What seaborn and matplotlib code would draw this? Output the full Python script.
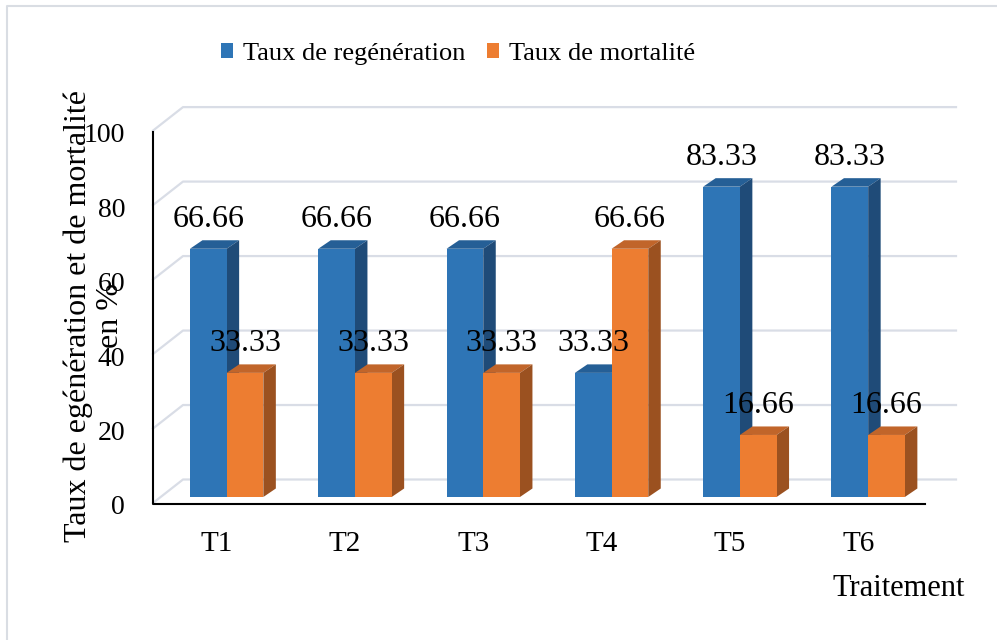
import pandas as pd
import matplotlib.pyplot as plt
import seaborn as sns
from matplotlib.patches import Polygon, Patch
from matplotlib.lines import Line2D
from matplotlib.transforms import IdentityTransform, ScaledTranslation

plt.rcParams['font.family'] = ['Liberation Serif', 'DejaVu Serif']

traitements = ['T1', 'T2', 'T3', 'T4', 'T5', 'T6']
series = ['Taux de regénération', 'Taux de mortalité']
regeneration = [66.66, 66.66, 66.66, 33.33, 83.33, 83.33]
mortalite = [33.33, 33.33, 33.33, 66.66, 16.66, 16.66]
yticks = [0, 20, 40, 60, 80, 100]

front = ['#2E75B6', '#ED7D31']
top_col = ['#255F96', '#C1652A']
side_col = ['#1F4B78', '#9B5120']

df = pd.DataFrame({
    'Traitement': traitements * 2,
    'Serie': [series[0]] * 6 + [series[1]] * 6,
    'Valeur': regeneration + mortalite,
})

W, H = 997, 640
fig = plt.figure(figsize=(W / 100, H / 100), dpi=100)
ax = fig.add_axes([153 / W, (H - 497) / H, (925 - 153) / W, (497 - 124.6) / H])

sns.barplot(data=df, x='Traitement', y='Valeur', hue='Serie', hue_order=series,
            palette=front, width=0.572, saturation=1, linewidth=0,
            legend=False, ax=ax)

ax.set_xlim(-0.574, 5.443)
ax.set_ylim(0, 100)
ax.set_xlabel('')
ax.set_ylabel('')
for s in ax.spines.values():
    s.set_visible(False)
ax.tick_params(length=0)
ax.set_yticks(yticks)
ax.set_yticklabels([str(v) for v in yticks], fontsize=20)
ax.tick_params(axis='y', pad=20)
ax.set_xticks(range(len(traitements)))
ax.set_xticklabels(traitements, fontsize=21)
ax.tick_params(axis='x', pad=24.5)
for lab in ax.get_yticklabels():
    lab.set_transform(lab.get_transform() + ScaledTranslation(0, -0.08, fig.dpi_scale_trans))
for lab in ax.get_xticklabels():
    lab.set_transform(lab.get_transform() + ScaledTranslation(-0.10, 0, fig.dpi_scale_trans))

to_px = ax.transData.transform
DX, DY = 12.5, 8.5

# back wall grid (pseudo 3D)
for v in yticks:
    py = to_px((0, v))[1]
    ax.add_artist(Line2D([153, 183, 956], [py - 6, py + 17.5, py + 17.5],
                         transform=IdentityTransform(), color='#D9DDE6', lw=1.6,
                         clip_on=False, zorder=0.5))

# bars: top and side faces + value labels
for ci, cont in enumerate(ax.containers):
    for bar in cont:
        x0 = bar.get_x()
        w = bar.get_width()
        h = bar.get_height()
        bar.set_zorder(3 + ci * 0.2)
        (px0, py0), (px1, py1) = to_px([(x0, 0), (x0 + w, h)])
        topf = Polygon([(px0, py1), (px1, py1), (px1 + DX, py1 + DY), (px0 + DX, py1 + DY)],
                       closed=True, transform=IdentityTransform(), facecolor=top_col[ci],
                       edgecolor='none', clip_on=False, zorder=2.9 + ci * 0.2)
        sidef = Polygon([(px1, py0), (px1 + DX, py0 + DY), (px1 + DX, py1 + DY), (px1, py1)],
                        closed=True, transform=IdentityTransform(), facecolor=side_col[ci],
                        edgecolor='none', clip_on=False, zorder=2.9 + ci * 0.2)
        ax.add_artist(topf)
        ax.add_artist(sidef)
        ax.annotate(f'{h:.2f}', (x0 + w / 2, h), xytext=(0, 20.9),
                    textcoords='offset points', ha='center', va='center',
                    fontsize=23, zorder=5, annotation_clip=False)

# axis lines
ax.add_artist(Line2D([153, 153, 925], [H - 132, H - 504, H - 504],
                     transform=IdentityTransform(), color='black', lw=1.5,
                     clip_on=False, zorder=4))

fig.text(94 / W, 1 - 316 / H, 'Taux de egénération et de mortalité\nen %',
         rotation=90, ha='center', va='center', fontsize=23, linespacing=1.15,
         multialignment='center')
fig.text(898.5 / W, 1 - 589 / H, 'Traitement', ha='center', va='center', fontsize=22)

handles = [Patch(facecolor=front[i], label=series[i]) for i in range(2)]
fig.legend(handles=handles, loc='center', bbox_to_anchor=(458 / W, 1 - 54 / H),
           ncol=2, frameon=False, fontsize=19, handlelength=0.46, handleheight=0.46,
           handletextpad=0.4, columnspacing=0.8)

# outer frame
fig.add_artist(Line2D([7, 7, 997], [0, H - 6, H - 6], transform=IdentityTransform(),
                      color='#D9DDE3', lw=1.5))

fig.savefig('out.png', dpi=100)
